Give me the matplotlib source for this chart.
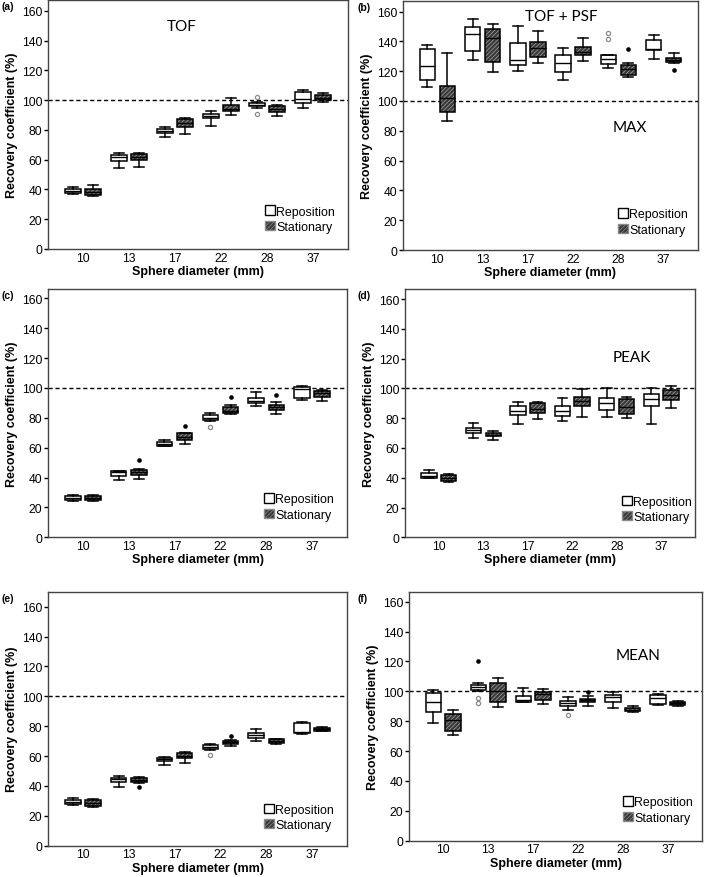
import matplotlib.pyplot as plt
from matplotlib.patches import Patch, PathPatch

plt.rcParams['font.family'] = ['Liberation Sans', 'DejaVu Sans']
plt.rcParams['hatch.linewidth'] = 0.5

diameters = ['10', '13', '17', '22', '28', '37']

# box summaries per sphere: [whisker low, q1, median, q3, whisker high]
tof_rep = [[37.0, 37.8, 38.8, 40.0, 41.5], [54.2, 59.0, 61.5, 63.0, 64.5],
           [75.5, 78.2, 79.5, 80.8, 81.8], [82.5, 87.7, 89.5, 91.0, 92.7],
           [94.5, 95.8, 97.0, 98.2, 99.0], [94.4, 98.2, 101.0, 105.4, 107.0]]
tof_stat = [[35.3, 36.0, 38.0, 40.3, 42.8], [54.8, 60.0, 62.0, 63.5, 64.5],
            [77.3, 81.7, 84.5, 87.0, 87.8], [90.2, 92.4, 94.0, 96.5, 101.5],
            [89.5, 91.7, 93.8, 96.0, 97.0], [98.9, 100.0, 101.5, 103.3, 104.8]]

max_rep = [[109.6, 114.3, 123.5, 135.2, 137.8], [127.3, 133.8, 144.8, 149.5, 154.8],
           [120.2, 124.0, 127.8, 138.7, 150.4], [114.1, 119.3, 125.8, 130.7, 135.6],
           [122.4, 125.1, 128.0, 130.7, 130.7], [128.0, 134.3, 134.7, 140.7, 144.6]]
max_stat = [[86.6, 92.6, 102.3, 110.0, 132.5], [119.3, 126.4, 142.0, 148.1, 151.9],
            [125.8, 129.6, 135.4, 139.6, 147.0], [126.9, 130.9, 133.1, 136.5, 142.5],
            [116.4, 117.3, 121.7, 124.0, 125.8], [125.3, 126.4, 127.5, 129.1, 132.5]]

c_rep = [[24.5, 25.0, 26.3, 27.9, 28.6], [38.4, 41.3, 43.5, 44.6, 44.6],
         [61.1, 61.4, 62.5, 64.0, 65.4], [78.1, 78.6, 79.7, 81.9, 83.5],
         [87.7, 89.9, 91.5, 93.3, 97.1], [91.7, 93.3, 99.5, 100.9, 101.3]]
c_stat = [[24.3, 24.8, 26.3, 27.9, 28.6], [39.0, 42.0, 43.5, 45.1, 45.7],
          [62.5, 65.4, 67.4, 69.6, 69.6], [82.6, 83.0, 84.4, 87.0, 88.6],
          [82.6, 85.5, 87.0, 88.8, 90.4], [91.3, 93.7, 96.4, 98.2, 98.9]]

peak_rep = [[39.8, 40.1, 41.4, 43.2, 45.0], [66.5, 70.3, 72.0, 73.6, 76.8],
            [76.1, 82.3, 84.6, 88.4, 90.8], [78.1, 81.2, 84.8, 88.2, 93.3],
            [81.0, 85.3, 90.0, 93.5, 100.2], [75.9, 87.9, 92.6, 96.2, 100.2]]
peak_stat = [[36.9, 37.6, 39.8, 41.8, 42.3], [65.3, 67.8, 68.9, 70.0, 71.2],
             [79.2, 83.2, 86.1, 90.0, 90.6], [81.0, 88.4, 91.7, 94.4, 99.6],
             [80.3, 82.8, 87.3, 93.1, 94.2], [86.6, 92.2, 95.5, 98.9, 101.6]]

e_rep = [[27.4, 27.7, 29.0, 30.4, 31.7], [39.3, 42.8, 44.6, 45.5, 46.6],
         [54.2, 56.5, 57.8, 58.9, 59.4], [63.8, 64.7, 65.8, 67.4, 68.3],
         [70.1, 72.3, 74.1, 75.7, 77.9], [74.8, 75.4, 76.0, 82.1, 82.8]]
e_stat = [[25.9, 26.3, 28.3, 30.4, 31.2], [41.7, 42.8, 44.0, 45.3, 45.7],
          [55.3, 58.5, 60.3, 62.0, 62.5], [66.9, 67.8, 69.2, 70.3, 70.7],
          [68.1, 68.7, 69.9, 71.2, 71.6], [76.5, 76.8, 77.9, 79.0, 79.2]]

mean_rep = [[78.8, 85.9, 92.6, 98.6, 100.9], [100.4, 100.9, 102.7, 104.2, 105.3],
            [92.6, 93.0, 94.2, 97.1, 102.0], [87.5, 90.2, 91.9, 93.3, 96.4],
            [89.0, 92.6, 96.0, 97.5, 99.3], [90.8, 91.5, 95.5, 97.5, 98.0]]
mean_stat = [[71.0, 73.2, 80.8, 84.8, 87.5], [89.3, 93.0, 100.4, 105.3, 109.1],
             [91.5, 94.4, 98.0, 99.8, 101.5], [90.4, 92.8, 94.0, 94.8, 96.6],
             [86.4, 86.8, 87.5, 88.6, 90.4], [90.4, 91.0, 92.2, 93.0, 93.5]]

# outliers as (sphere index, value); "mild" = open grey circles (reposition),
# "far" = small black dots
tof_mild = [(4, 102.3), (4, 91.0)]
tof_far = []
max_mild = [(4, 145.9), (4, 141.9)]
max_far = [(4, 135.2), (5, 120.8)]
c_mild = [(3, 73.6)]
c_far = [(1, 51.6), (2, 74.3), (3, 93.7), (4, 95.3)]
peak_mild = []
peak_far = []
e_mild = [(3, 60.7)]
e_far = [(1, 39.5), (3, 73.2)]
mean_mild = [(1, 95.3), (1, 91.9), (3, 83.9)]
mean_far = [(1, 120.0), (3, 99.3)]
# which series each far outlier belongs to (-1 reposition, +1 stationary)
max_far_side = [1, 1]
c_far_side = [1, 1, 1, 1]
e_far_side = [1, 1]
mean_far_side = [-1, 1]

W, H = 709, 878
fig = plt.figure(figsize=(W / 100, H / 100), dpi=100)

# label, rep, stat, mild, far, far side, ytop, left px, right px, bottom px, px per unit,
# texts, legend anchor
panels = [
    ('(a)', tof_rep, tof_stat, tof_mild, tof_far, [], 167, 48, 348, 250, 1.489,
     [('TOF', 2.15, 150)], (0.723, 0.175)),
    ('(b)', max_rep, max_stat, max_mild, max_far, max_far_side, 167, 403, 698, 251, 1.49,
     [('TOF + PSF', 2.75, 157), ('MAX', 4.26, 82.5)], (0.729, 0.167)),
    ('(c)', c_rep, c_stat, c_mild, c_far, c_far_side, 166, 48, 347, 538.3, 1.494,
     [], (0.723, 0.177)),
    ('(d)', peak_rep, peak_stat, peak_mild, peak_far, [], 166.5, 405, 695, 538.3, 1.489,
     [('PEAK', 4.33, 121)], (0.748, 0.168)),
    ('(e)', e_rep, e_stat, e_mild, e_far, e_far_side, 170, 48, 347, 846.7, 1.494,
     [], (0.723, 0.166)),
    ('(f)', mean_rep, mean_stat, mean_mild, mean_far, mean_far_side, 166.5, 409, 702, 841.7, 1.494,
     [('MEAN', 4.34, 124)], (0.73, 0.178)),
]

off = 0.22
bw = 0.34
stat_face = '#3a3a3a'
stat_hatch = '////////'


def to_stats(rows):
    return [dict(whislo=r[0], q1=r[1], med=r[2], q3=r[3], whishi=r[4], fliers=[]) for r in rows]


for label, rep, stat, mild, far, far_side, ytop, lpx, rpx, bpx, scale, texts, leg in panels:
    tpx = bpx - ytop * scale
    ax = fig.add_axes([lpx / W, 1 - bpx / H, (rpx - lpx) / W, (bpx - tpx) / H])
    idx = list(range(len(diameters)))

    common = dict(widths=bw, patch_artist=True, showfliers=False, capwidths=0.22,
                  whiskerprops=dict(color='black', lw=1.1),
                  capprops=dict(color='black', lw=1.1),
                  medianprops=dict(color='black', lw=1.0),
                  manage_ticks=False)
    ax.bxp(to_stats(rep), positions=[i - off for i in idx],
           boxprops=dict(facecolor='white', edgecolor='black', lw=1.1), **common)
    r2 = ax.bxp(to_stats(stat), positions=[i + off for i in idx],
                boxprops=dict(facecolor=stat_face, edgecolor='#a0a0a0', lw=0, hatch=stat_hatch),
                **common)
    for box in r2['boxes']:
        ax.add_patch(PathPatch(box.get_path(), fill=False, edgecolor='black', lw=1.1,
                               zorder=box.get_zorder() + 0.1))
    for m in r2['medians']:
        m.set_zorder(5)

    # outliers
    for i, v in mild:
        ax.plot(i - off, v, 'o', ms=3, mfc='none', mec='#8a8a8a', mew=0.9, zorder=6)
    for (i, v), s in zip(far, far_side):
        ax.plot(i + s * off, v, 'o', ms=2.3, color='black', zorder=6)

    ax.axhline(100, color='black', lw=1.0, ls=(0, (3, 2)), zorder=1)

    ax.set_xlim(-0.76, 5.76)
    ax.set_ylim(0, ytop)
    ax.set_yticks(range(0, 161, 20))
    ax.set_xticks(idx)
    ax.set_xticklabels(diameters)
    ax.tick_params(axis='x', length=0, labelsize=8.7, pad=2)
    ax.tick_params(axis='y', length=3, width=1, labelsize=8.7, pad=1)
    for sp in ax.spines.values():
        sp.set_color('#444444')
        sp.set_linewidth(1.0)
    ax.set_ylabel('Recovery coefficient (%)', fontsize=9, fontweight='bold', labelpad=3)
    ax.set_xlabel('Sphere diameter (mm)', fontsize=9, fontweight='bold', labelpad=1)

    for txt, x, y in texts:
        ax.text(x, y, txt, ha='center', va='center', fontsize=11, family=['Lato', 'DejaVu Sans'])

    handles = [Patch(facecolor='white', edgecolor='black', lw=1.0),
               Patch(facecolor=stat_face, edgecolor='#8a8a8a', hatch=stat_hatch, lw=1.0)]
    ax.legend(handles, ['Reposition', 'Stationary'], loc='upper left', bbox_to_anchor=leg,
              frameon=False, borderpad=0, borderaxespad=0, handlelength=0.8,
              handleheight=0.8, handletextpad=0.1, labelspacing=0.25, fontsize=8.9)

    fig.text((2 if lpx < 200 else 357) / W, 1 - (tpx + 6) / H, label, fontsize=7.5,
             fontweight='bold', va='center', ha='left')

fig.savefig('out.png', dpi=100)
